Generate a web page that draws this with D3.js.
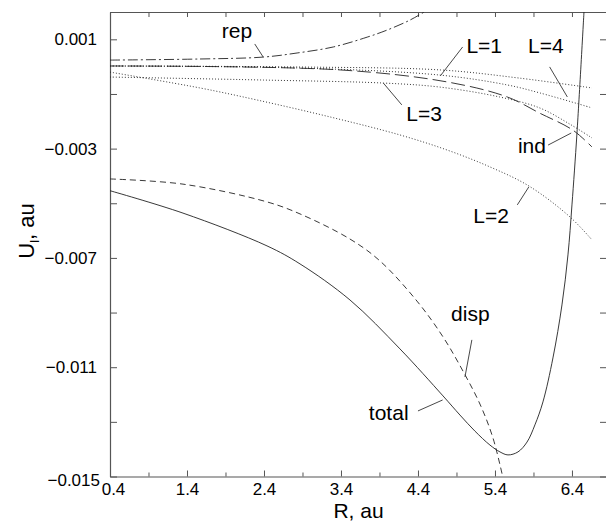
<!DOCTYPE html>
<html>
<head>
<meta charset="utf-8">
<script src="https://cdn.jsdelivr.net/npm/d3@7"></script>
<style>
  body { margin: 0; background: #fff; }
  svg { font-family: "Liberation Sans", Arial, Helvetica, sans-serif; }
</style>
</head>
<body>
<div id="chart"></div>
<script>
// values (R in au, U in au)
const totalR = [0.4, 1.348, 2.439, 2.868, 3.517, 4.166, 4.725, 4.945, 5.14, 5.335, 5.465, 5.569, 5.699, 5.816, 5.919, 6.023, 6.153, 6.27, 6.348, 6.40, 6.465, 6.556];
const totalU = [-0.00454, -0.00536, -0.00656, -0.00722, -0.00854, -0.01033, -0.01205, -0.01275, -0.01334, -0.01385, -0.0141, -0.01421, -0.0141, -0.01374, -0.01311, -0.01227, -0.01066, -0.00872, -0.00689, -0.00506, -0.00243, 0.002];

const dispR = [0.4, 1.348, 2.439, 2.868, 3.517, 3.906, 4.387, 4.725, 4.984, 5.205, 5.374, 5.50];
const dispU = [-0.00411, -0.0043, -0.00495, -0.00539, -0.00631, -0.00711, -0.00858, -0.00989, -0.01114, -0.01235, -0.01359, -0.0150];

const repR = [0.4, 1.57, 2.39, 2.83, 3.30, 3.74, 4.0, 4.30, 4.48];
const repU = [0.00024, 0.00028, 0.00035, 0.0005, 0.00072, 0.00108, 0.00134, 0.00171, 0.002];

const indR = [0.4, 3.39, 4.78, 5.56, 5.98, 6.41, 6.66];
const indU = [0.000024, -0.00012, -0.00056, -0.00111, -0.0017, -0.00232, -0.00294];

const l1R = [0.4, 2.87, 4.69, 5.56, 5.98, 6.66];
const l1U = [0.000024, -0.00005, -0.00031, -0.00067, -0.00096, -0.00151];

const l2R = [0.4, 1.569, 2.309, 3.257, 4.166, 4.777, 5.335, 5.842, 6.374, 6.66];
const l2U = [-0.0002, -0.00078, -0.00122, -0.00184, -0.0025, -0.00305, -0.00367, -0.00437, -0.0055, -0.00634];

const l3R = [0.4, 2.39, 3.95, 4.69, 5.46, 5.98, 6.37, 6.66];
const l3U = [-0.00038, -0.00049, -0.0006, -0.00075, -0.00111, -0.00151, -0.0021, -0.00261];

const l4R = [0.4, 2.87, 4.69, 5.72, 6.66];
const l4U = [0.000024, -0.000013, -0.00012, -0.00042, -0.00078];

// tick values and labels
const xTicks = [0.4, 1.4, 2.4, 3.4, 4.4, 5.4, 6.4];
const xTickLabels = ["0.4", "1.4", "2.4", "3.4", "4.4", "5.4", "6.4"];
const xMinor = [0.9, 1.9, 2.9, 3.9, 4.9, 5.9];
const yTicks = [0.001, -0.003, -0.007, -0.011, -0.015];
const yTickLabels = ["0.001", "\u22120.003", "\u22120.007", "\u22120.011", "\u22120.015"];
const yMinor = [-0.001, -0.005, -0.009, -0.013];

// curve labels: text spot and leader line, in data units
const labelText = ["rep", "L=1", "L=4", "L=3", "ind", "L=2", "disp", "total"];
const labelAt = [[2.05, 0.00105], [5.26, 0.0005], [6.06, 0.0005], [4.48, -0.00199], [5.88, -0.00316], [5.35, -0.00572], [5.08, -0.00931], [4.02, -0.01293]];
const leaderFrom = [[2.28, 0.00083], [4.98, 0.00072], [6.11, -0.00001], [4.19, -0.0014], [6.09, -0.00287], [5.69, -0.00506], [5.10, -0.0100], [4.4, -0.0126]];
const leaderTo = [[2.39, 0.00035], [4.69, -0.00034], [6.34, -0.00111], [3.95, -0.0006], [6.39, -0.00243], [5.84, -0.0044], [5.01, -0.01136], [4.72, -0.0122]];

const width = 606, height = 523;
const plotLeft = 110, plotRight = 607, plotTop = 12, plotBottom = 476.5;

const x = d3.scaleLinear().domain([0.4, 6.855]).range([plotLeft, plotRight]);
const y = d3.scaleLinear().domain([-0.015, 0.002]).range([plotBottom, plotTop]);

const svg = d3.select("#chart").append("svg")
    .attr("width", width)
    .attr("height", height);

svg.append("clipPath").attr("id", "plotClip")
    .append("rect")
    .attr("x", plotLeft).attr("y", plotTop)
    .attr("width", plotRight - plotLeft).attr("height", plotBottom - plotTop);

const frameColor = "#555";

// axes: ticks point inward on all four sides
function addAxis(axis, tx, ty) {
    const g = svg.append("g").attr("transform", `translate(${tx},${ty})`).call(axis);
    g.select(".domain").attr("stroke", frameColor).attr("stroke-width", 1.2);
    g.selectAll(".tick line").attr("stroke", frameColor);
    return g;
}

const xBottom = addAxis(d3.axisBottom(x).tickValues(xTicks).tickSizeInner(-6).tickSizeOuter(0)
    .tickFormat((d, i) => xTickLabels[i]).tickPadding(6), 0, plotBottom);
xBottom.selectAll("text").attr("font-size", 17).attr("fill", "#000");
xBottom.selectAll(".tick").filter(d => d === 0.4).select("text").attr("dx", 3);

addAxis(d3.axisBottom(x).tickValues(xMinor).tickSizeInner(-4).tickSizeOuter(0).tickFormat(""), 0, plotBottom)
    .select(".domain").remove();
addAxis(d3.axisTop(x).tickValues(xTicks.concat(xMinor)).tickSizeInner(-5).tickSizeOuter(0).tickFormat(""), 0, plotTop);

const yLeft = addAxis(d3.axisLeft(y).tickValues(yTicks).tickSizeInner(-7).tickSizeOuter(0)
    .tickFormat((d, i) => yTickLabels[i]).tickPadding(13), plotLeft, 0);
yLeft.selectAll("text").attr("font-size", 17).attr("fill", "#000");
yLeft.selectAll(".tick").filter(d => d === -0.015).select("text").attr("dx", 3).attr("dy", "0.55em");

addAxis(d3.axisLeft(y).tickValues(yMinor).tickSizeInner(-7).tickSizeOuter(0).tickFormat(""), plotLeft, 0)
    .select(".domain").remove();
addAxis(d3.axisRight(y).tickValues(yTicks.concat(yMinor)).tickSizeInner(-7).tickSizeOuter(0).tickFormat(""), plotRight, 0);

// axis titles
svg.append("text")
    .attr("x", (plotLeft + plotRight) / 2)
    .attr("y", 518)
    .attr("text-anchor", "middle")
    .attr("font-size", 21)
    .text("R, au");

const yTitle = svg.append("text")
    .attr("transform", "translate(34,231) rotate(-90)")
    .attr("text-anchor", "middle")
    .attr("font-size", 22);
yTitle.append("tspan").text("U");
yTitle.append("tspan").attr("font-size", 13).attr("dy", 5).text("l");
yTitle.append("tspan").attr("dy", -5).text(", au");

// curves
const series = [
    { r: totalR, u: totalU, dash: null },
    { r: dispR, u: dispU, dash: "6,4" },
    { r: repR, u: repU, dash: "10,3,2,3" },
    { r: indR, u: indU, dash: "14,5" },
    { r: l1R, u: l1U, dash: "1,2" },
    { r: l2R, u: l2U, dash: "1,2" },
    { r: l3R, u: l3U, dash: "1,2" },
    { r: l4R, u: l4U, dash: "1,2" }
];

const line = d3.line()
    .x(d => x(d[0]))
    .y(d => y(d[1]))
    .curve(d3.curveCatmullRom.alpha(0.5));

const plot = svg.append("g").attr("clip-path", "url(#plotClip)");
series.forEach(s => {
    plot.append("path")
        .datum(s.r.map((r, i) => [r, s.u[i]]))
        .attr("d", line)
        .attr("fill", "none")
        .attr("stroke", "#222")
        .attr("stroke-width", 0.9)
        .attr("stroke-dasharray", s.dash);
});

// labels with leader lines
labelText.forEach((t, i) => {
    svg.append("line")
        .attr("x1", x(leaderFrom[i][0])).attr("y1", y(leaderFrom[i][1]))
        .attr("x2", x(leaderTo[i][0])).attr("y2", y(leaderTo[i][1]))
        .attr("stroke", "#333")
        .attr("stroke-width", 0.9);
    svg.append("text")
        .attr("x", x(labelAt[i][0]))
        .attr("y", y(labelAt[i][1]))
        .attr("text-anchor", "middle")
        .attr("font-size", 21)
        .text(t);
});
</script>
</body>
</html>
